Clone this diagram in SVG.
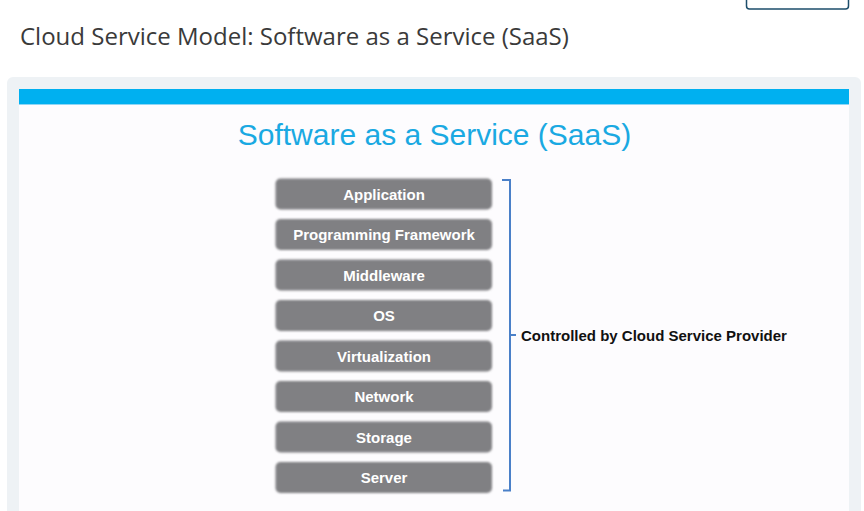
<svg xmlns="http://www.w3.org/2000/svg" width="864" height="511" viewBox="0 0 864 511">
  <style>
    .hdr { font-family: "Open Sans", "Liberation Sans", sans-serif; font-size: 24px; fill: #3a3a3a; }
    .ttl { font-family: "Liberation Sans", Arial, sans-serif; font-size: 30px; fill: #1aa9e2; }
    .box { fill: #808083; }
    .lbl { font-family: "Liberation Sans", Arial, sans-serif; font-size: 15px; font-weight: bold; fill: #ffffff; text-anchor: middle; }
    .ctl { font-family: "Liberation Sans", Arial, sans-serif; font-size: 15px; font-weight: bold; fill: #111111; }
    .brk { fill: none; stroke: #4a80c8; stroke-width: 2; }
  </style>
  <defs>
    <filter id="soft" x="-5%" y="-20%" width="110%" height="140%">
      <feGaussianBlur stdDeviation="1.2"/>
    </filter>
  </defs>
  <rect x="0" y="0" width="864" height="511" fill="#ffffff"/>
  <rect x="746.5" y="-4" width="102" height="13" rx="3" fill="#ffffff" stroke="#1d4e6b" stroke-width="1.5"/>
  <text class="hdr" x="20" y="44.5">Cloud Service Model: Software as a Service (SaaS)</text>
  <rect x="7" y="77" width="854" height="440" rx="6" fill="#eef2f5"/>
  <rect x="19" y="89" width="830" height="430" fill="#fdfcfe"/>
  <rect x="19" y="89" width="830" height="15" fill="#00b0f0"/>
  <rect x="19" y="104" width="830" height="1" fill="#8fd6f5"/>
  <text class="ttl" x="434.5" y="145" text-anchor="middle">Software as a Service (SaaS)</text>

  <g id="application"><rect class="box" x="275.5" y="178.5" width="216.5" height="31" rx="5" filter="url(#soft)"/><text class="lbl" x="384" y="199.5">Application</text></g>
  <g id="programming-framework"><rect class="box" x="275.5" y="219" width="216.5" height="31" rx="5" filter="url(#soft)"/><text class="lbl" x="384" y="240">Programming Framework</text></g>
  <g id="middleware"><rect class="box" x="275.5" y="259.5" width="216.5" height="31" rx="5" filter="url(#soft)"/><text class="lbl" x="384" y="280.5">Middleware</text></g>
  <g id="os"><rect class="box" x="275.5" y="300" width="216.5" height="31" rx="5" filter="url(#soft)"/><text class="lbl" x="384" y="321">OS</text></g>
  <g id="virtualization"><rect class="box" x="275.5" y="340.5" width="216.5" height="31" rx="5" filter="url(#soft)"/><text class="lbl" x="384" y="361.5">Virtualization</text></g>
  <g id="network"><rect class="box" x="275.5" y="381" width="216.5" height="31" rx="5" filter="url(#soft)"/><text class="lbl" x="384" y="402">Network</text></g>
  <g id="storage"><rect class="box" x="275.5" y="421.5" width="216.5" height="31" rx="5" filter="url(#soft)"/><text class="lbl" x="384" y="442.5">Storage</text></g>
  <g id="server"><rect class="box" x="275.5" y="462" width="216.5" height="31" rx="5" filter="url(#soft)"/><text class="lbl" x="384" y="483">Server</text></g>

  <g id="connectors">
    <path class="brk" d="M502,180 L510,180 L510,490.5 L503,490.5 M510,335 L516,335"/>
  </g>
  <g id="provider-label">
    <text class="ctl" x="521" y="340.5">Controlled by Cloud Service Provider</text>
  </g>
</svg>
